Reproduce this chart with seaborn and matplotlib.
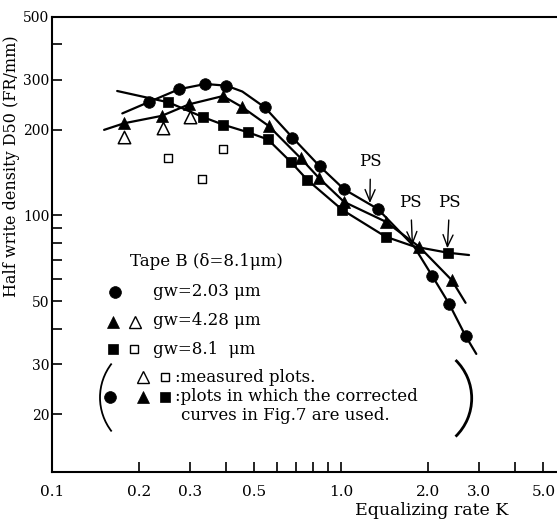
import matplotlib
matplotlib.use("Agg")
import matplotlib.pyplot as plt
import seaborn as sns
import pandas as pd
from matplotlib.patches import Arc
from matplotlib.ticker import FixedLocator, FixedFormatter, NullFormatter

# ---------------- data ----------------
# filled plots (corrected curves)
k_gw203 = [0.217, 0.275, 0.339, 0.401, 0.544, 0.678, 0.842, 1.023, 1.338, 2.065, 2.36, 2.69]
d_gw203 = [251, 278, 290, 286, 240, 188, 149, 123.6, 105.4, 61.2, 48.9, 37.7]

k_gw428 = [0.1776, 0.2394, 0.298, 0.390, 0.453, 0.561, 0.724, 0.840, 1.023, 1.424, 1.858, 2.408]
d_gw428 = [211, 224, 246, 263, 241, 206.5, 159, 135, 111.6, 95.1, 77.7, 59.3]

k_gw81 = [0.2525, 0.332, 0.390, 0.477, 0.558, 0.668, 0.764, 1.009, 1.424, 2.33]
d_gw81 = [250, 222, 208.7, 196, 185, 154.6, 133.3, 104.6, 84.2, 74]

# measured plots (open symbols)
k_gw428_meas = [0.1776, 0.242, 0.299]
d_gw428_meas = [189.3, 202.7, 222.7]
k_gw81_meas = [0.252, 0.331, 0.390]
d_gw81_meas = [159.7, 134.4, 171.4]

# fitted curves
k_curve203 = [0.175, 0.217, 0.275, 0.339, 0.401, 0.455, 0.544, 0.678, 0.842, 1.023, 1.338, 1.785, 2.065, 2.36, 2.69, 2.93]
d_curve203 = [228.5, 251, 278, 290, 286, 272.8, 240, 188, 149, 123.6, 105.4, 77.8, 61.2, 48.9, 37.7, 32.6]
k_curve428 = [0.1514, 0.1776, 0.2394, 0.298, 0.390, 0.453, 0.561, 0.724, 0.840, 1.023, 1.424, 1.858, 2.408, 2.69]
d_curve428 = [200, 211, 224, 246, 263, 241, 206.5, 159, 135, 111.6, 95.1, 77.7, 59.3, 49.3]
k_curve81 = [0.168, 0.2525, 0.332, 0.390, 0.477, 0.558, 0.668, 0.764, 1.009, 1.424, 1.785, 2.33, 2.765]
d_curve81 = [274, 250, 222, 208.7, 196, 185, 154.6, 133.3, 104.6, 84.2, 77.8, 74, 72.6]

# PS (arrow tip K, D ; label K, D)
ps_tip_k = [1.256, 1.762, 2.327]
ps_tip_d = [110.6, 78.7, 76.7]
ps_lab_k = [1.262, 1.738, 2.37]
ps_lab_d = [154.3, 110.9, 110.9]

x_major = [0.1, 0.2, 0.3, 0.5, 1.0, 2.0, 3.0, 5.0]
x_major_labels = ["0.1", "0.2", "0.3", "0.5", "1.0", "2.0", "3.0", "5.0"]
x_minor = [0.4, 0.6, 0.7, 0.8, 0.9, 4.0]
y_major = [20, 30, 50, 100, 200, 300, 500]
y_major_labels = ["20", "30", "50", "100", "200", "300", "500"]
y_minor = [40, 60, 70, 80, 90, 400]

# ---------------- figure ----------------
sns.set_theme(style="white")
plt.rcParams['font.family'] = ['DejaVu Serif']
plt.rcParams['mathtext.fontset'] = 'dejavuserif'

W, H = 557, 523
L, R, T, B = 52, 557, 16.7, 472.3
fig = plt.figure(figsize=(W / 100, H / 100), dpi=100)
ax = fig.add_axes([L / W, (H - B) / H, (R - L) / W, (B - T) / H])
ax.set_xscale('log')
ax.set_yscale('log')

def curve(k, d):
    df = pd.DataFrame({"K": k, "D": d})
    sns.lineplot(data=df, x="K", y="D", ax=ax, color="black", lw=1.6,
                 estimator=None, sort=False, zorder=2)

curve(k_curve203, d_curve203)
curve(k_curve428, d_curve428)
curve(k_curve81, d_curve81)

sns.scatterplot(x=k_gw203, y=d_gw203, marker='o', s=70, color='black',
                edgecolor='black', linewidth=0.5, ax=ax, zorder=3)
sns.scatterplot(x=k_gw428, y=d_gw428, marker='^', s=75, color='black',
                edgecolor='black', linewidth=0.5, ax=ax, zorder=3)
sns.scatterplot(x=k_gw81, y=d_gw81, marker='s', s=50, color='black',
                edgecolor='black', linewidth=0.5, ax=ax, zorder=3)
sns.scatterplot(x=k_gw428_meas, y=d_gw428_meas, marker='^', s=80, color='white',
                edgecolor='black', linewidth=1.1, ax=ax, zorder=3)
sns.scatterplot(x=k_gw81_meas, y=d_gw81_meas, marker='s', s=32, color='white',
                edgecolor='black', linewidth=1.0, ax=ax, zorder=3)

for tk, td, lk, ld in zip(ps_tip_k, ps_tip_d, ps_lab_k, ps_lab_d):
    ax.annotate("PS", xy=(tk, td), xytext=(lk, ld), ha='center', va='center',
                fontsize=12, color='black',
                arrowprops=dict(arrowstyle='->,head_length=0.7,head_width=0.3',
                                color='black', lw=1.0, shrinkA=4, shrinkB=0))

ax.set_xlim(0.1, 5.57)
ax.set_ylim(12.5, 500)

ax.xaxis.set_major_locator(FixedLocator(x_major))
ax.xaxis.set_major_formatter(FixedFormatter(x_major_labels))
ax.xaxis.set_minor_locator(FixedLocator(x_minor))
ax.xaxis.set_minor_formatter(NullFormatter())
ax.yaxis.set_major_locator(FixedLocator(y_major))
ax.yaxis.set_major_formatter(FixedFormatter(y_major_labels))
ax.yaxis.set_minor_locator(FixedLocator(y_minor))
ax.yaxis.set_minor_formatter(NullFormatter())

ax.tick_params(which='both', direction='in', length=7, width=1.2, color='black',
               bottom=True, left=True, top=False, right=False)
ax.tick_params(axis='x', which='major', labelsize=11, pad=9, labelcolor='black')
ax.tick_params(axis='y', which='major', labelsize=10, pad=2, labelcolor='black')
ax.set_xlabel("")
ax.set_ylabel("")
for s in ['left', 'bottom', 'top']:
    ax.spines[s].set_color('black')
    ax.spines[s].set_linewidth(1.5)
ax.spines['right'].set_visible(False)

fig.text(12 / W, 1 - 166.5 / H, "Half write density D50 (FR/mm)", rotation=90,
         ha='center', va='center', fontsize=11.5, color='black')
fig.text(432 / W, 1 - 510.7 / H, "Equalizing rate K", ha='center', va='center',
         fontsize=12.5, color='black')

# ---------------- legend block ----------------
def af(px, py):
    return ((px - L) / (R - L), (B - py) / (B - T))

def sym(px, py, marker, ms, fill):
    x, y = af(px, py)
    ax.plot([x], [y], marker=marker, ms=ms, mfc='black' if fill else 'white',
            mec='black', mew=1.0 if not fill else 0.5, transform=ax.transAxes,
            clip_on=False, ls='none')

def txt(px, py, s):
    x, y = af(px, py)
    ax.text(x, y, s, transform=ax.transAxes, ha='left', va='center',
            fontsize=12, color='black')

txt(130, 261, "Tape B (δ=8.1μm)")
sym(115, 292, 'o', 8.5, True)
txt(152.7, 291, "gw=2.03 μm")
sym(112.7, 321.5, '^', 9, True)
sym(135, 321.5, '^', 9, False)
txt(152.7, 320.5, "gw=4.28 μm")
sym(113.3, 349, 's', 7, True)
sym(134.3, 349, 's', 6, False)
txt(152.7, 349, "gw=8.1  μm")
sym(143.3, 377.3, '^', 9, False)
sym(165, 377.3, 's', 6, False)
txt(175, 377, ":measured plots.")
sym(110, 396.7, 'o', 8.5, True)
sym(143.3, 396.7, '^', 9, True)
sym(165, 396.7, 's', 7, True)
txt(175, 396.7, ":plots in which the corrected")
txt(181, 415.7, "curves in Fig.7 are used.")

ax.add_patch(Arc((155.3 / 100, (H - 397.5) / 100), 1.106, 1.106, theta1=142.1,
                 theta2=217.9, transform=fig.dpi_scale_trans, color='black',
                 lw=1.3, clip_on=False))
ax.add_patch(Arc((418.3 / 100, (H - 398.3) / 100), 1.068, 1.068, theta1=-45.8,
                 theta2=45.8, transform=fig.dpi_scale_trans, color='black',
                 lw=2.0, clip_on=False))

fig.savefig("out.png", dpi=100, facecolor='white')
